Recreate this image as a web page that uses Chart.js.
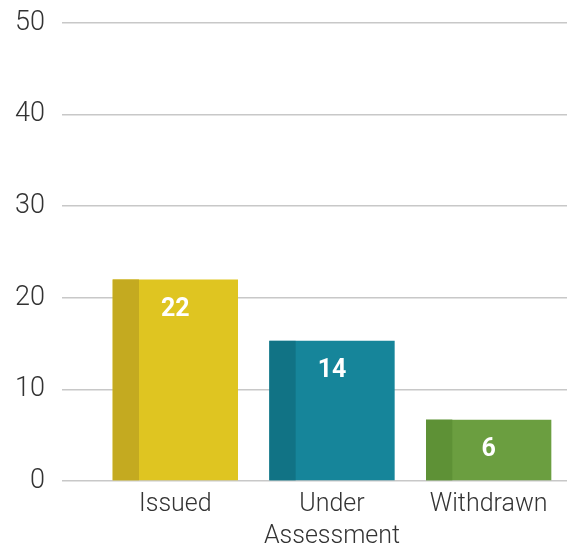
<!DOCTYPE html>
<html><head><meta charset="utf-8">
<script src="https://cdn.jsdelivr.net/npm/chart.js@4"></script>
<style>html,body{margin:0;padding:0;background:#fff}#wrap{width:567px;height:547px}</style>
</head><body><div id="wrap"><canvas id="c"></canvas></div>
<script>
const categories = [["Issued"], ["Under", "Assessment"], ["Withdrawn"]];
const values = [22, 15.3, 6.7];
const valueLabels = ["22", "14", "6"];
const mainColors = ["#DFC521", "#16859A", "#6B9E40"];
const darkColors = ["#C4AA20", "#117385", "#5E9136"];
const yTicks = [0, 10, 20, 30, 40, 50];

const barDecor = {
  id: 'barDecor',
  afterDatasetsDraw(chart) {
    const ctx = chart.ctx;
    const meta = chart.getDatasetMeta(0);
    meta.data.forEach((bar, i) => {
      const left = bar.x - bar.width / 2;
      const h = bar.base - bar.y;
      ctx.save();
      ctx.fillStyle = darkColors[i];
      ctx.fillRect(left, bar.y, bar.width * 0.21, h);
      ctx.fillStyle = '#fff';
      ctx.font = 'bold 25px Roboto';
      ctx.textAlign = 'center';
      ctx.textBaseline = 'middle';
      ctx.fillText(valueLabels[i], bar.x, bar.y + 30);
      ctx.restore();
    });
  }
};

new Chart(document.getElementById('c'), {
  type: 'bar',
  data: {
    labels: categories,
    datasets: [{ data: values, backgroundColor: mainColors, borderWidth: 0,
      categoryPercentage: 1, barPercentage: 0.8 }]
  },
  options: {
    responsive: true, maintainAspectRatio: false, animation: false,
    layout: { padding: { top: 0, right: 0, left: 0, bottom: 0 } },
    plugins: { legend: { display: false }, tooltip: { enabled: false } },
    scales: {
      x: {
        grid: { display: false },
        border: { display: false },
        afterFit(s) { s.height = 66; },
        ticks: { color: '#333', font: { family: 'Roboto', weight: 300, size: 25, lineHeight: 1.26 }, padding: 0, maxRotation: 0 }
      },
      y: {
        min: 0, max: 50,
        afterBuildTicks(s) { s.ticks = yTicks.map(v => ({ value: v })); },
        afterFit(s) { s.width = 97; s.paddingTop = 23; },
        border: { display: false },
        grid: { color: '#c8c8c8', lineWidth: 1.5, tickLength: 35, drawTicks: true, tickColor: '#c8c8c8' },
        ticks: { color: '#333', font: { family: 'Roboto', weight: 300, size: 27 }, padding: 17 }
      }
    }
  },
  plugins: [barDecor]
});
</script></body></html>
